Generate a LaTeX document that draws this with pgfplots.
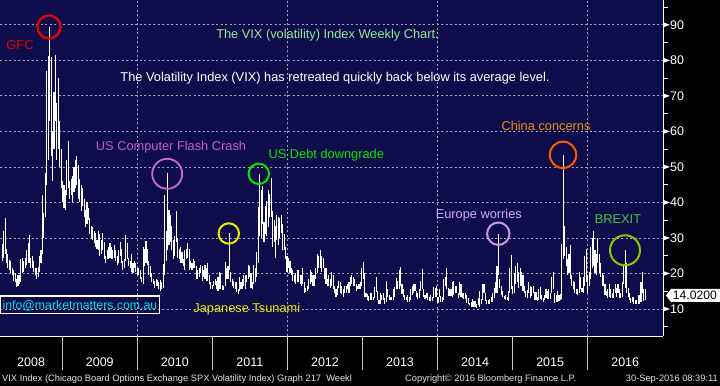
\documentclass[border=0pt]{standalone}
\usepackage{pgfplots}
\pgfplotsset{compat=1.18}
\usepackage{pgfplotstable}
\usepackage{fontspec}
\setmainfont{Liberation Sans}
\definecolor{navy}{RGB}{15,12,75}
\definecolor{gridc}{RGB}{165,165,175}
\definecolor{sepc}{RGB}{200,200,205}
\definecolor{footc}{RGB}{225,225,235}
\definecolor{vixgreen}{RGB}{150,235,150}
\definecolor{flashc}{RGB}{195,95,185}
\definecolor{flashcirc}{RGB}{200,110,200}
\definecolor{debtc}{RGB}{0,230,0}
\definecolor{japc}{RGB}{235,235,0}
\definecolor{eurc}{RGB}{210,170,250}
\definecolor{eurcirc}{RGB}{205,150,235}
\definecolor{chinac}{RGB}{240,140,20}
\definecolor{chinacirc}{RGB}{255,90,0}
\definecolor{brexc}{RGB}{60,200,60}
\definecolor{brexcirc}{RGB}{140,200,0}
\definecolor{gfcc}{RGB}{230,0,0}
\definecolor{infoc}{RGB}{0,225,230}
\newcommand\af{\fontsize{12.8bp}{15bp}\selectfont}

% weekly VIX low / high
\pgfplotstableread[row sep=\\]{lo hi\\
23.5 28.2\\ 24.5 32.0\\ 25.5 35.6\\ 23.0 27.0\\ 21.5 25.5\\ 21.0 23.8\\ 20.0 23.5\\ 19.5 21.5\\ 18.0 21.0\\ 17.5 20.2\\
16.3 18.5\\ 16.5 19.5\\ 17.0 19.5\\ 17.5 24.0\\ 20.0 24.5\\ 20.5 23.5\\ 21.5 24.5\\ 22.5 26.5\\ 23.0 28.5\\ 23.0 30.8\\
21.5 24.5\\ 21.5 25.0\\ 20.5 23.5\\ 19.5 21.5\\ 18.5 21.5\\ 19.0 21.8\\ 20.5 25.0\\ 23.0 26.5\\ 25.5 42.2\\ 30.0 37.0\\
36.0 48.4\\ 45.0 76.9\\ 52.0 81.2\\ 63.0 89.5\\ 53.0 81.0\\ 46.0 60.0\\ 55.0 71.0\\ 63.0 81.5\\ 52.0 68.0\\ 55.0 75.0\\
50.0 63.0\\ 44.0 55.0\\ 40.0 46.0\\
}\tA
\pgfplotstableread[row sep=\\]{lo hi\\
38.5 45.0\\ 38.0 43.5\\ 42.0 52.0\\ 44.0 57.4\\ 41.0 46.0\\ 42.0 46.5\\ 40.0 47.5\\ 43.0 50.0\\ 44.0 52.0\\ 45.0 53.2\\
41.0 50.5\\ 40.0 46.5\\ 37.5 45.0\\ 39.0 44.0\\ 36.0 41.0\\ 33.0 38.0\\ 34.0 40.0\\ 35.0 38.5\\ 31.0 35.5\\ 30.0 33.5\\
29.5 33.0\\ 28.5 32.0\\ 27.5 31.5\\ 27.0 29.5\\ 26.5 32.0\\ 25.0 31.0\\ 25.5 29.5\\ 26.5 31.5\\ 24.0 29.0\\ 23.0 25.0\\
24.0 26.5\\ 24.0 27.5\\ 24.5 28.5\\ 24.0 27.5\\ 24.0 26.5\\ 24.5 28.0\\ 23.5 26.5\\ 22.5 25.0\\ 23.0 26.5\\ 25.0 29.0\\
23.0 27.0\\ 21.0 23.5\\ 21.5 24.0\\ 23.5 30.7\\ 24.0 28.5\\ 22.0 24.5\\ 21.5 23.5\\ 20.5 25.5\\ 20.0 23.0\\ 21.5 23.5\\
20.5 23.0\\ 19.5 21.5\\
}\tB
\pgfplotstableread[row sep=\\]{lo hi\\
19.5 21.5\\ 18.5 21.0\\ 17.5 19.0\\ 17.0 27.5\\ 22.0 27.0\\ 23.0 29.2\\ 22.5 27.0\\ 19.5 23.5\\ 19.0 22.0\\ 17.5 20.0\\
17.0 18.5\\ 16.0 17.8\\ 16.5 18.5\\ 16.5 18.2\\ 15.5 17.5\\ 15.2 18.2\\ 15.5 17.5\\ 16.0 22.8\\ 19.5 42.0\\ 23.5 32.0\\
26.5 48.2\\ 28.0 38.0\\ 29.0 36.5\\ 26.5 33.5\\ 24.0 29.5\\ 25.0 30.5\\ 29.0 37.5\\ 24.5 30.0\\ 24.0 27.0\\ 23.0 27.5\\
23.0 26.0\\ 22.0 24.0\\ 21.0 26.5\\ 24.0 27.0\\ 24.5 28.5\\ 21.0 27.0\\ 21.5 23.5\\ 21.0 23.0\\ 21.5 24.0\\ 21.5 23.5\\
18.5 22.0\\ 18.5 21.0\\ 19.0 21.5\\ 20.0 22.5\\ 18.0 22.0\\ 19.0 21.0\\ 18.5 22.5\\ 18.0 21.5\\ 18.0 23.0\\ 17.0 19.5\\
15.5 17.5\\ 15.5 16.8\\ 16.5 18.0\\
}\tC
\pgfplotstableread[row sep=\\]{lo hi\\
16.8 18.5\\ 15.5 17.8\\ 15.0 19.0\\ 15.5 20.5\\ 15.5 20.0\\ 15.3 16.8\\ 15.3 16.5\\ 16.5 23.2\\ 18.5 21.5\\ 18.5 22.0\\
21.0 31.3\\ 17.5 20.5\\ 16.5 18.5\\ 15.8 17.8\\ 15.5 17.5\\ 14.8 17.5\\ 14.3 15.5\\ 15.0 19.0\\ 15.5 17.5\\ 15.5 18.5\\
16.5 19.5\\ 15.5 19.5\\ 17.5 19.5\\ 18.5 22.5\\ 19.0 22.2\\ 16.0 20.0\\ 15.5 17.5\\ 17.0 22.5\\ 17.5 21.5\\ 19.0 26.0\\
23.0 38.8\\ 30.5 48.0\\ 30.0 43.5\\ 34.0 44.5\\ 29.0 34.5\\ 31.0 39.0\\ 30.5 40.5\\ 33.0 43.5\\ 36.0 42.5\\ 36.0 46.9\\
27.5 37.5\\ 29.0 35.0\\ 24.5 33.5\\ 29.5 36.5\\ 28.0 36.0\\ 30.0 35.5\\ 31.5 36.5\\ 26.5 34.0\\ 26.5 31.0\\ 24.0 27.5\\
20.5 25.0\\ 21.5 24.5\\
}\tD
\pgfplotstableread[row sep=\\]{lo hi\\
20.0 23.5\\ 19.5 21.5\\ 18.0 21.0\\ 17.5 19.5\\ 17.0 20.0\\ 17.5 21.0\\ 17.5 21.0\\ 17.0 19.5\\ 16.5 19.5\\ 17.0 21.5\\
14.5 17.5\\ 14.8 16.0\\ 15.0 16.5\\ 15.5 18.5\\ 17.0 21.0\\ 17.5 20.5\\ 16.5 19.5\\ 16.5 19.5\\ 18.5 21.5\\ 20.0 25.5\\
21.5 25.0\\ 21.5 26.7\\ 20.5 25.0\\ 21.5 24.5\\ 18.5 21.5\\ 17.0 21.5\\ 16.5 18.5\\ 16.5 19.5\\ 16.0 18.5\\ 16.5 20.5\\
15.5 19.5\\ 14.5 16.5\\ 13.4 15.5\\ 14.0 16.5\\ 16.0 18.0\\ 14.5 17.5\\ 14.2 16.5\\ 13.5 15.5\\ 14.5 16.5\\ 14.5 16.5\\
15.5 17.0\\ 14.5 17.5\\ 16.5 19.0\\ 17.0 19.5\\ 16.5 19.0\\ 16.5 18.5\\ 15.0 17.0\\ 15.5 16.5\\ 15.5 17.0\\ 15.5 17.5\\
16.5 21.5\\ 18.5 23.2\\
}\tE
\pgfplotstableread[row sep=\\]{lo hi\\
13.3 20.0\\ 13.3 14.5\\ 12.5 14.3\\ 12.3 13.8\\ 12.5 14.5\\ 12.6 14.5\\ 12.5 13.5\\ 13.0 16.3\\ 14.8 19.0\\ 12.6 15.0\\
11.3 12.5\\ 11.5 14.5\\ 12.6 14.0\\ 12.5 14.5\\ 11.3 13.0\\ 12.0 18.0\\ 13.5 15.5\\ 12.5 14.0\\ 12.5 13.5\\ 12.4 13.5\\
12.5 15.5\\ 13.5 16.3\\ 15.5 18.6\\ 15.5 18.0\\ 15.5 21.0\\ 16.5 21.9\\ 14.2 17.0\\ 13.5 15.5\\ 12.5 14.0\\ 12.5 13.5\\
12.0 14.0\\ 12.0 13.5\\ 12.5 15.5\\ 13.9 16.5\\ 14.5 17.1\\ 15.0 17.1\\ 13.5 15.0\\ 12.8 14.5\\ 13.2 15.5\\ 15.0 18.0\\
15.5 21.3\\ 13.5 15.5\\ 12.8 13.9\\ 13.0 14.5\\ 12.5 14.5\\ 12.3 13.5\\ 12.3 14.0\\ 12.3 13.5\\ 13.0 16.3\\ 13.5 16.0\\
13.5 16.5\\ 11.7 13.3\\
}\tF
\pgfplotstableread[row sep=\\]{lo hi\\
13.5 15.5\\ 12.0 13.8\\ 12.1 13.5\\ 12.4 18.5\\ 16.5 19.0\\ 15.5 21.5\\ 13.6 16.0\\ 13.8 15.5\\ 13.7 15.5\\ 13.5 17.5\\
14.0 17.8\\ 14.5 16.5\\ 14.5 16.5\\ 13.0 14.5\\ 14.0 17.5\\ 13.3 17.0\\ 13.0 14.5\\ 12.8 14.5\\ 12.9 14.5\\ 11.8 14.0\\
11.3 13.0\\ 11.0 11.8\\ 10.7 12.0\\ 10.7 12.7\\ 10.6 12.3\\ 10.7 12.3\\ 10.3 11.3\\ 11.0 13.0\\ 10.6 15.0\\ 11.5 12.8\\
12.5 17.0\\ 14.5 17.0\\ 12.3 14.5\\ 11.3 12.5\\ 11.5 12.5\\ 11.5 12.8\\ 12.0 13.5\\ 12.0 14.5\\ 13.0 16.0\\ 14.5 17.5\\
14.5 22.0\\ 19.5 31.1\\ 16.0 18.5\\ 14.0 16.5\\ 13.5 15.0\\ 12.8 13.8\\ 12.5 14.0\\ 12.6 13.5\\ 12.3 15.0\\ 14.5 21.5\\
15.5 25.2\\ 14.2 16.5\\
}\tG
\pgfplotstableread[row sep=\\]{lo hi\\
14.5 20.1\\ 17.0 22.0\\ 17.5 23.0\\ 16.0 20.5\\ 16.5 21.5\\ 16.5 20.5\\ 15.0 19.5\\ 14.5 16.5\\ 13.3 15.0\\ 13.0 15.3\\
14.5 17.5\\ 13.2 16.5\\ 13.8 16.2\\ 14.5 16.5\\ 12.5 14.7\\ 12.5 14.8\\ 12.3 13.5\\ 12.4 15.5\\ 12.8 16.1\\ 12.4 14.0\\
11.9 13.0\\ 12.5 14.0\\ 13.0 15.5\\ 12.8 15.0\\ 12.8 15.5\\ 12.9 14.5\\ 14.5 19.0\\ 15.5 20.5\\ 11.8 14.5\\ 12.0 14.0\\
12.1 15.0\\ 12.3 14.0\\ 12.5 14.2\\ 12.7 28.4\\ 24.0 53.3\\ 25.0 33.5\\ 22.0 27.5\\ 19.5 24.0\\ 20.0 25.5\\ 18.5 28.0\\
16.5 19.5\\ 15.5 18.0\\ 14.5 17.5\\ 14.2 15.5\\ 14.0 15.5\\ 14.5 20.5\\ 15.5 19.0\\ 14.8 16.0\\ 14.5 19.0\\ 16.5 25.0\\
17.5 26.8\\ 14.5 19.5\\
}\tH
\pgfplotstableread[row sep=\\]{lo hi\\
16.5 20.5\\ 18.5 27.5\\ 21.5 30.0\\ 22.0 32.1\\ 20.0 26.5\\ 19.5 25.5\\ 23.0 30.0\\ 20.0 25.5\\ 19.0 23.0\\ 16.5 20.0\\
16.5 19.5\\ 14.0 17.0\\ 13.8 15.0\\ 13.0 15.5\\ 13.5 17.0\\ 13.2 15.5\\ 13.0 14.5\\ 13.0 15.5\\ 14.5 17.0\\ 13.5 16.0\\
14.5 17.0\\ 13.1 15.5\\ 13.2 14.5\\ 13.5 17.5\\ 17.0 22.5\\ 16.0 26.7\\ 14.5 23.0\\ 13.5 16.0\\ 12.4 14.5\\ 11.8 13.2\\
11.9 13.5\\ 11.5 13.5\\ 11.5 12.6\\ 11.3 12.5\\ 11.5 14.0\\ 11.5 14.0\\ 12.0 17.5\\ 14.5 20.5\\ 12.2 15.5\\ 12.4 15.5\\
}\tI

\pgfplotsset{vixbar/.style={draw=none, mark=none, forget plot,
  error bars/.cd, y dir=plus, y explicit, error mark=none,
  error bar style={draw=white, solid, line width=1.1bp}}}

\begin{document}
\begin{tikzpicture}
\useasboundingbox (0bp,-50bp) rectangle (720bp,336bp);
\fill[black] (0bp,-50bp) rectangle (720bp,336bp);
\begin{axis}[
  at={(0bp,0bp)}, anchor=south west, scale only axis,
  width=663bp, height=336bp,
  xmin=2008.171, xmax=2017.003, ymin=2.4, ymax=97,
  clip=false,
  axis background/.style={fill=navy},
  axis x line=bottom, axis y line=right,
  axis line style={-, white, line width=1bp},
  xtick={2008.171,2009,2010,2011,2012,2013,2014,2015,2016,2017},
  xticklabels={2008,2009,2010,2011,2012,2013,2014,2015,2016},
  x tick label as interval,
  ytick={10,20,...,90},
  minor ytick={5,15,...,95},
  major tick length=0pt, minor tick length=5bp, tick align=outside,
  minor tick style={white, line width=0.8bp},
  ymajorgrids,
  major grid style={gridc, dash pattern=on 2bp off 2.5bp, line width=0.8bp},
  /pgf/number format/assume math mode=true,
  ticklabel style={white, font=\fontsize{12.5bp}{14bp}\selectfont},
  xticklabel style={anchor=base, yshift=-30.5bp},
  yticklabel style={anchor=west, inner sep=0pt, xshift=7bp},
]
\pgfplotsinvokeforeach{2010,2012,2014,2016}{
  \draw[gridc, dash pattern=on 2bp off 2.5bp, line width=0.8bp] (axis cs:#1,2.4) -- (axis cs:#1,97);}
\pgfplotsinvokeforeach{2009,2010,2011,2012,2013,2014,2015,2016}{
  \draw[sepc, line width=0.9bp] (axis cs:#1,2.4) -- ++(0bp,-34bp);}
\pgfplotsinvokeforeach{10,20,30,40,50,60,70,80,90}{
  \fill[white] (axis cs:2017.003,#1) ++(0bp,2.6bp) -- ++(7bp,-2.6bp) -- ++(-7bp,-2.6bp) -- cycle;}

\addplot[vixbar] table[x expr=2008.200+\coordindex*0.019165, y=lo, y error expr=\thisrow{hi}-\thisrow{lo}] {\tA};
\addplot[vixbar] table[x expr=2009.023+\coordindex*0.019165, y=lo, y error expr=\thisrow{hi}-\thisrow{lo}] {\tB};
\addplot[vixbar] table[x expr=2010.020+\coordindex*0.019165, y=lo, y error expr=\thisrow{hi}-\thisrow{lo}] {\tC};
\addplot[vixbar] table[x expr=2011.036+\coordindex*0.019165, y=lo, y error expr=\thisrow{hi}-\thisrow{lo}] {\tD};
\addplot[vixbar] table[x expr=2012.034+\coordindex*0.019165, y=lo, y error expr=\thisrow{hi}-\thisrow{lo}] {\tE};
\addplot[vixbar] table[x expr=2013.028+\coordindex*0.019165, y=lo, y error expr=\thisrow{hi}-\thisrow{lo}] {\tF};
\addplot[vixbar] table[x expr=2014.025+\coordindex*0.019165, y=lo, y error expr=\thisrow{hi}-\thisrow{lo}] {\tG};
\addplot[vixbar] table[x expr=2015.023+\coordindex*0.019165, y=lo, y error expr=\thisrow{hi}-\thisrow{lo}] {\tH};
\addplot[vixbar] table[x expr=2016.020+\coordindex*0.019165, y=lo, y error expr=\thisrow{hi}-\thisrow{lo}] {\tI};
\end{axis}

\begin{scope}[x=1bp, y=1bp, every node/.style={inner sep=0pt}]
% circles
\draw[gfcc, line width=2.3bp] (49,309) circle (11.5);
\draw[flashcirc, line width=1.8bp] (167.2,162.2) circle (15.0);
\draw[debtc, line width=2bp] (258.8,162.2) circle (10.2);
\draw[japc, line width=2bp] (228.8,102.5) circle (10.2);
\draw[eurcirc, line width=2bp] (498.3,102.3) circle (11.2);
\draw[chinacirc, line width=2bp] (563,181.2) circle (13.2);
\draw[brexcirc, line width=2bp] (625,85.7) circle (15.0);
% texts
\node[anchor=base, text=gfcc, font=\af] at (20,286.4) {GFC};
\node[anchor=base, text=vixgreen, font=\af] at (327.5,297.1) {The VIX (volatility) Index Weekly Chart.};
\node[anchor=base, text=white, font=\af] at (335,254.7) {The Volatility Index (VIX) has retreated quickly back below its average level.};
\node[anchor=base, text=flashc, font=\af] at (171,185.7) {US Computer Flash Crash};
\node[anchor=base, text=debtc, font=\af] at (326.3,177.1) {US Debt downgrade};
\node[anchor=base, text=japc, font=\af] at (246.8,23.7) {Japanese Tsunami};
\node[anchor=base, text=eurc, font=\af] at (478.8,117.1) {Europe worries};
\node[anchor=base, text=chinac, font=\af] at (546,205.7) {China concerns};
\node[anchor=base, text=brexc, font=\af] at (618,112.1) {BREXIT};
% info box
\draw[white, line width=1.2bp] (0.6,40) rectangle (159.3,22.7);
\node[anchor=base, text=infoc, font=\fontsize{12.3bp}{14bp}\selectfont] at (80,26.6) {info@marketmatters.com.au};
% last value tag
\fill[white] (666,40.5) -- (671,47) -- (720,47) -- (720,34) -- (671,34) -- cycle;
\node[anchor=base west, text=black, font=\fontsize{12.2bp}{14bp}\selectfont] at (672.7,36.1) {14.0200};
% footer
\node[anchor=base west, text=footc, font=\fontsize{9.3bp}{11bp}\selectfont] at (2,-45.3) {VIX Index (Chicago Board Options Exchange SPX Volatility Index) Graph 217\ \ Weekl};
\node[anchor=base west, text=footc, font=\fontsize{9.3bp}{11bp}\selectfont] at (405,-45.3) {Copyright© 2016 Bloomberg Finance L.P.};
\node[anchor=base east, text=footc, font=\fontsize{9.3bp}{11bp}\selectfont] at (718,-45.3) {30-Sep-2016 08:39:11};
\end{scope}
\end{tikzpicture}
\end{document}
